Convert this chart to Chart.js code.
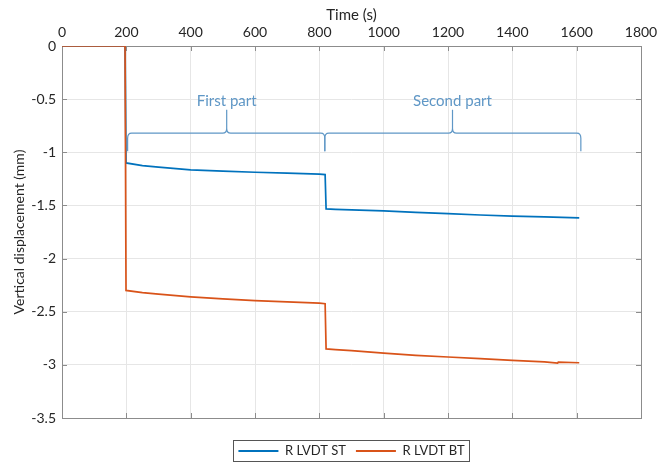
<!DOCTYPE html>
<html>
<head>
<meta charset="utf-8">
<script src="https://cdn.jsdelivr.net/npm/chart.js@4.4.1/dist/chart.umd.min.js"></script>
<style>
html,body{margin:0;padding:0;background:#fff;}
#wrap{width:672px;height:462px;position:relative;}
</style>
</head>
<body>
<div id="wrap"><canvas id="c" width="672" height="462"></canvas></div>
<script>
// ---- data ----
const seriesNames = ['R LVDT ST', 'R LVDT BT'];
const timeST = [0, 196, 199, 250, 300, 400, 500, 600, 700, 800, 818, 821, 850, 900, 1000, 1100, 1200, 1300, 1400, 1500, 1608];
const dispST = [0, 0, -1.10, -1.125, -1.14, -1.165, -1.178, -1.188, -1.197, -1.205, -1.21, -1.533, -1.537, -1.542, -1.552, -1.566, -1.578, -1.59, -1.60, -1.608, -1.617];
const timeBT = [0, 196, 199, 250, 300, 400, 500, 600, 700, 800, 818, 821, 850, 900, 1000, 1100, 1200, 1300, 1400, 1500, 1541, 1543, 1608];
const dispBT = [0, 0, -2.30, -2.32, -2.335, -2.36, -2.38, -2.395, -2.408, -2.42, -2.425, -2.85, -2.856, -2.866, -2.89, -2.91, -2.926, -2.942, -2.957, -2.972, -2.983, -2.974, -2.98];
const xTicks = [0, 200, 400, 600, 800, 1000, 1200, 1400, 1600, 1800];
const yTicks = [0, -0.5, -1, -1.5, -2, -2.5, -3, -3.5];
const braceLabels = ['First part', 'Second part'];
const braceStart = [204, 817];
const braceEnd = [817, 1613];
const braceTip = [512, 1214];
const braceLevel = [-0.82, -0.82];
const braceFoot = [-0.99, -0.99];
const braceTipLevel = [-0.6, -0.6];
const braceTextLevel = [-0.515, -0.515];

const FONT = 'Lato';
const TXT = '#262626';
const BOX = '#8c8c8c';
const BRACE = '#5f97c6';

function pts(xs, ys){ return xs.map((x,i)=>({x:x, y:ys[i]})); }

const framePlugin = {
  id: 'frame',
  afterLayout(chart){
    const lg = chart.legend;
    if (lg){ lg.top += 16.5; lg.bottom += 16.5; lg.left += 31; lg.right += 31; }
  },
  beforeDatasetsDraw(chart){
    const {ctx, chartArea:a, scales:{x, y}} = chart;
    ctx.save();
    ctx.strokeStyle = BOX; ctx.lineWidth = 1;
    ctx.beginPath();
    const L = 5;
    x.ticks.forEach(t=>{
      const px = Math.round(x.getPixelForValue(t.value)) + 0.5;
      ctx.moveTo(px, a.top); ctx.lineTo(px, a.top + L);
      ctx.moveTo(px, a.bottom); ctx.lineTo(px, a.bottom - L);
    });
    y.ticks.forEach(t=>{
      const py = Math.round(y.getPixelForValue(t.value)) + 0.5;
      ctx.moveTo(a.left, py); ctx.lineTo(a.left + L, py);
      ctx.moveTo(a.right, py); ctx.lineTo(a.right - L, py);
    });
    ctx.stroke();
    ctx.strokeRect(Math.round(a.left)+0.5, Math.round(a.top)+0.5, Math.round(a.right-a.left), Math.round(a.bottom-a.top));
    ctx.restore();
  },
  afterDraw(chart){
    const {ctx, scales:{x, y}} = chart;
    ctx.save();
    // braces
    ctx.strokeStyle = BRACE; ctx.lineWidth = 1.2;
    ctx.fillStyle = BRACE;
    ctx.font = '15px ' + FONT;
    ctx.textAlign = 'center'; ctx.textBaseline = 'middle';
    braceLabels.forEach((lab, i)=>{
      const x0 = x.getPixelForValue(braceStart[i]);
      const x1 = x.getPixelForValue(braceEnd[i]);
      const xc = x.getPixelForValue(braceTip[i]);
      const yl = y.getPixelForValue(braceLevel[i]);
      const yf = y.getPixelForValue(braceFoot[i]);
      const yt = y.getPixelForValue(braceTipLevel[i]);
      const r = 4;
      ctx.beginPath();
      ctx.moveTo(x0, yf);
      ctx.lineTo(x0, yl + r + 1);
      ctx.quadraticCurveTo(x0, yl, x0 + r, yl);
      ctx.lineTo(xc - r, yl);
      ctx.quadraticCurveTo(xc, yl, xc, yl - r - 1);
      ctx.lineTo(xc, yt);
      ctx.moveTo(xc, yl - r - 1);
      ctx.quadraticCurveTo(xc, yl, xc + r, yl);
      ctx.lineTo(x1 - r, yl);
      ctx.quadraticCurveTo(x1, yl, x1, yl + r + 1);
      ctx.lineTo(x1, yf);
      ctx.stroke();
      ctx.fillText(lab, xc, y.getPixelForValue(braceTextLevel[i]));
    });
    // legend border
    const lg = chart.legend;
    if (lg && lg.legendHitBoxes && lg.legendHitBoxes.length){
      const hb = lg.legendHitBoxes;
      const l = hb[0].left - 5;
      const rgt = hb[hb.length-1].left + hb[hb.length-1].width + 5;
      const t = hb[0].top - 4.5;
      const h = hb[0].height + 9;
      ctx.strokeStyle = '#555'; ctx.lineWidth = 1;
      ctx.strokeRect(Math.round(l)+0.5, Math.round(t)+0.5, Math.round(rgt-l), Math.round(h)-1);
    }
    ctx.restore();
  }
};

new Chart(document.getElementById('c'), {
  type: 'line',
  data: {
    datasets: [
      { label: seriesNames[0], data: pts(timeST, dispST), borderColor: '#0072BD', backgroundColor: '#0072BD', borderWidth: 1.7, pointRadius: 0, tension: 0, order: 1 },
      { label: seriesNames[1], data: pts(timeBT, dispBT), borderColor: '#D95319', backgroundColor: '#D95319', borderWidth: 1.7, pointRadius: 0, tension: 0, order: 0 }
    ]
  },
  options: {
    responsive: false,
    animation: false,
    devicePixelRatio: 1,
    layout: { padding: { left: 0, right: 31, top: 0, bottom: 11 } },
    plugins: {
      tooltip: { enabled: false },
      legend: {
        display: true,
        position: 'bottom',
        labels: {
          font: { family: FONT, size: 13 },
          color: TXT,
          boxWidth: 40,
          boxHeight: 2,
          padding: 10,
          generateLabels(chart){
            return chart.data.datasets.map((d, i)=>({
              text: d.label, fillStyle: d.borderColor, strokeStyle: d.borderColor,
              lineWidth: 0, hidden: false, datasetIndex: i, fontColor: TXT
            }));
          }
        }
      }
    },
    scales: {
      x: {
        type: 'linear', position: 'top', min: 0, max: 1800,
        afterBuildTicks(s){ s.ticks = xTicks.map(v=>({value:v})); },
        afterFit(s){ s.height = 46; },
        ticks: { color: TXT, font: { family: FONT, size: 14 }, padding: 5, maxRotation: 0, callback: v => String(v) },
        grid: { color: '#e6e6e6', drawTicks: false },
        border: { display: false },
        title: { display: true, text: 'Time (s)', color: TXT, font: { family: FONT, size: 15 }, padding: { top: 6, bottom: 0 } }
      },
      y: {
        type: 'linear', min: -3.5, max: 0,
        afterBuildTicks(s){ s.ticks = yTicks.map(v=>({value:v})); },
        afterFit(s){ s.width = 62; },
        ticks: { color: TXT, font: { family: FONT, size: 14 }, padding: 6, callback: v => String(v) },
        grid: { color: '#e6e6e6', drawTicks: false },
        border: { display: false },
        title: { display: true, text: 'Vertical displacement (mm)', color: TXT, font: { family: FONT, size: 14 }, padding: { top: 11, bottom: 0 } }
      }
    }
  },
  plugins: [framePlugin]
});
</script>
</body>
</html>
